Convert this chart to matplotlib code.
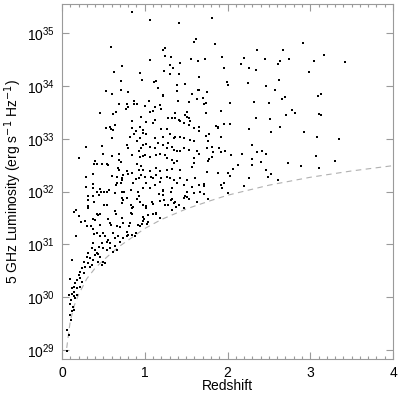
import numpy as np
import matplotlib
matplotlib.use("Agg")
import matplotlib.pyplot as plt
from matplotlib.ticker import FixedLocator, MultipleLocator, NullLocator

plt.rcParams['font.family'] = ['Liberation Sans', 'DejaVu Sans']

# (redshift, log10 luminosity), split by redshift range
src_lowz = [
    (0.85, 35.39), (0.59, 34.73), (0.73, 34.37), (0.63, 34.27), (0.94, 34.25), (0.97, 34.11),
    (0.71, 34.09), (0.53, 33.91), (0.61, 33.85), (0.71, 33.92), (0.80, 33.89),
    (0.69, 33.65), (0.78, 33.66), (0.87, 33.72), (0.91, 33.65), (0.80, 33.60), (0.77, 33.57),
    (0.87, 33.66), (0.46, 33.48), (0.62, 33.46), (0.65, 33.50), (0.85, 33.34), (0.96, 33.41),
    (0.94, 33.23), (0.58, 33.22), (0.64, 33.26), (0.62, 33.17), (0.59, 33.18), (0.84, 33.20),
    (0.89, 33.15), (0.87, 33.09), (0.82, 33.04), (0.61, 33.02), (0.98, 33.10), (0.94, 33.01),
    (0.53, 33.20),
    (0.29, 32.85), (0.21, 32.63), (0.48, 32.86), (0.49, 32.71), (0.61, 32.67), (0.69, 32.71),
    (0.78, 32.88), (0.80, 32.82), (0.91, 32.95), (0.84, 32.69), (0.93, 32.76), (0.94, 32.66),
    (0.98, 32.67), (0.40, 32.57), (0.42, 32.53), (0.39, 32.52), (0.48, 32.52), (0.54, 32.53),
    (0.55, 32.50), (0.69, 32.59), (0.71, 32.55), (0.68, 32.44), (0.69, 32.41), (0.78, 32.38),
    (0.80, 32.33), (0.84, 32.36), (0.91, 32.52), (0.96, 32.49), (0.93, 32.41), (0.96, 32.31),
    (0.93, 32.25), (0.29, 32.28), (0.37, 32.33), (0.60, 32.30), (0.66, 32.28), (0.72, 32.25),
    (0.74, 32.31),
    (0.37, 32.14), (0.38, 32.07), (0.42, 32.00), (0.46, 32.05), (0.51, 31.99), (0.54, 32.00),
    (0.57, 32.02), (0.64, 31.98), (0.72, 32.00), (0.75, 31.99), (0.83, 32.02), (0.92, 31.99),
    (0.98, 32.06), (0.66, 32.17), (0.65, 32.12), (0.86, 32.16), (0.90, 32.24), (0.71, 32.16),
    (0.73, 32.22), (0.29, 32.09),
    (0.17, 31.65), (0.15, 31.62), (0.20, 31.54), (0.17, 31.15), (0.31, 31.92), (0.32, 31.84),
    (0.31, 31.73), (0.32, 31.68), (0.37, 31.92), (0.39, 31.81), (0.45, 31.94), (0.47, 32.00),
    (0.51, 31.75), (0.54, 31.74), (0.42, 31.58), (0.44, 31.56), (0.46, 31.57), (0.37, 31.48),
    (0.40, 31.46), (0.28, 31.44), (0.23, 31.43), (0.30, 31.35), (0.35, 31.34), (0.37, 31.30),
    (0.46, 31.37), (0.58, 31.41), (0.59, 31.37), (0.56, 31.48), (0.64, 31.64), (0.65, 31.58),
    (0.72, 31.49), (0.74, 31.40), (0.72, 31.78), (0.74, 31.84), (0.72, 31.88), (0.78, 31.87),
    (0.83, 31.75), (0.84, 31.68), (0.86, 31.71), (0.83, 31.59), (0.85, 31.58), (0.81, 31.34),
    (0.78, 31.24), (0.82, 31.40), (0.66, 31.34), (0.70, 31.32), (0.92, 31.37), (0.94, 31.34),
    (0.91, 31.86), (0.94, 31.81), (0.93, 31.92), (0.98, 31.51),
    (0.50, 31.21), (0.52, 31.15), (0.46, 31.15), (0.42, 31.22), (0.39, 31.19), (0.62, 31.21),
    (0.64, 31.12), (0.68, 31.15), (0.56, 31.08), (0.54, 31.05), (0.58, 31.02), (0.74, 31.12),
    (0.78, 31.15), (0.80, 31.18), (0.70, 31.05), (0.54, 30.89), (0.50, 30.93), (0.58, 30.93),
    (0.45, 30.95), (0.48, 31.02), (0.38, 31.02), (0.36, 30.93), (0.40, 30.89), (0.42, 30.84),
    (0.44, 30.82), (0.32, 30.83), (0.30, 30.77), (0.34, 30.74), (0.38, 30.70), (0.40, 30.80),
    (0.46, 30.77), (0.44, 30.67), (0.36, 30.61), (0.32, 30.64), (0.34, 30.57), (0.26, 30.67),
    (0.28, 30.58), (0.24, 30.55), (0.22, 30.48), (0.27, 30.45), (0.20, 30.42), (0.22, 30.36),
    (0.18, 30.33), (0.24, 30.29), (0.16, 30.26), (0.14, 30.20), (0.12, 30.17), (0.18, 30.17),
    (0.22, 30.20), (0.10, 30.34), (0.12, 30.70), (0.50, 30.67), (0.52, 30.64), (0.48, 30.61),
    (0.62, 30.86), (0.66, 30.89), (0.64, 30.96), (0.84, 31.18), (0.88, 31.15), (0.90, 31.21),
    (0.12, 30.07), (0.15, 30.10), (0.14, 30.02), (0.18, 30.04), (0.16, 29.98), (0.10, 29.88),
    (0.13, 29.82), (0.15, 29.76), (0.12, 29.73), (0.10, 29.66), (0.11, 29.57), (0.06, 29.37),
    (0.08, 29.28), (0.06, 28.99), (0.09, 30.05), (0.11, 29.95),
]

src_midz = [
    (1.06, 35.25), (1.41, 35.19), (1.25, 34.71), (1.22, 34.68), (1.06, 34.49), (1.32, 34.54),
    (1.43, 34.44), (1.23, 34.28), (1.13, 34.09), (1.11, 34.08), (1.62, 34.89), (1.60, 34.84),
    (1.25, 34.57), (1.31, 34.39), (1.56, 34.51), (1.64, 34.47), (1.34, 34.33), (1.23, 34.29),
    (1.41, 34.23), (1.30, 34.22), (1.66, 34.16), (1.49, 34.04), (1.16, 33.96), (1.39, 34.01),
    (1.39, 33.91), (1.64, 33.92), (1.66, 33.93), (1.22, 33.83), (1.22, 33.80), (1.57, 33.85),
    (1.63, 33.76), (1.05, 33.72), (1.40, 33.72), (1.53, 33.70),
    (1.18, 33.64), (1.12, 33.60), (1.10, 33.53), (1.20, 33.57), (1.06, 33.51), (1.00, 33.62),
    (1.37, 33.48), (1.51, 33.50), (1.49, 33.45), (1.28, 33.39), (1.33, 33.39), (1.37, 33.39),
    (1.41, 33.36), (1.43, 33.34), (1.51, 33.42), (1.53, 33.39), (1.55, 33.34), (1.12, 33.35),
    (1.10, 33.29), (1.02, 33.31), (1.47, 33.29), (1.53, 33.26), (1.59, 33.20), (1.65, 33.23),
    (1.66, 33.15), (1.20, 33.19), (1.27, 33.18), (1.22, 33.04), (1.12, 33.01), (1.02, 33.09),
    (0.98, 33.17), (1.31, 33.08), (1.35, 33.01), (1.37, 33.04), (1.43, 33.04), (1.47, 33.01),
    (1.55, 32.98), (1.59, 32.95),
    (1.16, 32.91), (1.22, 32.88), (1.28, 32.91), (1.33, 32.85), (1.27, 32.82), (1.12, 32.82),
    (1.06, 32.85), (1.02, 32.90), (0.98, 32.88), (0.96, 32.82), (1.35, 32.79), (1.39, 32.76),
    (1.43, 32.77), (1.47, 32.82), (1.53, 32.79), (1.63, 32.76), (1.65, 32.72), (1.18, 32.72),
    (1.14, 32.69), (1.06, 32.66), (1.00, 32.69), (1.24, 32.69), (1.27, 32.63), (1.33, 32.60),
    (1.35, 32.54), (1.39, 32.57), (1.59, 32.63), (1.57, 32.47), (1.59, 32.54),
    (0.98, 32.41), (1.06, 32.38), (1.14, 32.44), (1.18, 32.38), (1.27, 32.41), (1.33, 32.43),
    (1.43, 32.41), (1.00, 32.28), (1.08, 32.28), (1.10, 32.25), (1.14, 32.31), (1.20, 32.25),
    (1.27, 32.28), (1.31, 32.25), (1.35, 32.22), (1.43, 32.25), (1.51, 32.22), (1.61, 32.25),
    (1.02, 32.16), (1.12, 32.12), (1.18, 32.19), (1.39, 32.16), (1.47, 32.12), (1.57, 32.09),
    (1.65, 32.12), (1.06, 32.06), (1.22, 32.03), (1.33, 32.06), (1.51, 32.00), (1.59, 31.97),
    (1.63, 31.80), (1.49, 31.92), (1.47, 31.88), (1.51, 31.90), (1.53, 31.85), (1.47, 31.68),
    (1.38, 31.71), (1.41, 31.75), (1.35, 31.78), (1.36, 31.81), (1.32, 31.84), (1.33, 31.86),
    (1.32, 32.00), (1.22, 32.01), (1.22, 31.93), (1.17, 31.95), (1.09, 31.80), (1.10, 31.77),
    (1.19, 31.82), (1.23, 31.84), (1.24, 31.75), (1.28, 31.74), (0.98, 31.75), (1.01, 31.73),
    (1.02, 31.68), (1.13, 31.60), (1.14, 31.58), (1.10, 31.58), (1.33, 31.66), (1.04, 31.56),
    (1.18, 31.49), (0.99, 31.48), (0.98, 31.44), (1.04, 31.42), (1.03, 31.39), (0.97, 31.39),
]

src_highz = [
    (1.81, 35.28), (1.85, 34.80), (1.73, 34.51), (1.93, 34.54), (1.96, 34.33), (1.99, 34.08),
    (2.01, 34.01), (1.70, 33.77), (1.75, 33.89), (1.71, 33.66), (1.74, 33.68), (1.74, 33.49),
    (1.92, 33.53), (1.86, 33.24), (1.89, 33.23), (1.88, 33.21), (1.96, 33.27), (1.74, 33.06),
    (1.78, 33.08), (1.92, 33.04), (1.76, 32.95), (1.81, 32.85), (1.75, 32.82), (1.90, 32.83),
    (1.92, 32.75), (1.83, 32.74), (1.81, 32.66), (1.78, 32.61), (1.76, 32.58), (1.75, 32.37),
    (1.88, 32.36), (2.01, 32.35), (1.71, 32.12), (1.72, 32.14), (1.72, 32.10), (1.92, 32.12),
    (1.93, 32.07), (1.96, 32.17), (2.01, 31.97), (1.67, 31.99), (1.71, 31.95), (1.77, 31.86),
    (2.03, 33.27), (1.97, 32.77),
    (2.91, 34.82), (2.36, 34.68), (2.67, 34.67), (3.17, 34.58), (2.20, 34.52), (2.45, 34.51),
    (2.74, 34.51), (2.16, 34.42), (2.64, 34.47), (2.61, 34.42), (3.04, 34.47), (3.42, 34.45),
    (2.26, 34.33), (2.34, 34.30), (2.98, 34.27), (2.25, 34.06), (2.62, 34.11), (2.47, 34.00),
    (2.57, 33.93), (3.09, 33.80), (3.13, 33.84), (2.69, 33.79), (2.66, 33.75), (2.03, 33.67),
    (2.32, 33.69), (2.50, 33.67), (2.78, 33.54), (2.81, 33.48), (2.71, 33.44), (3.10, 33.47),
    (3.13, 33.45), (2.34, 33.39), (2.51, 33.38), (2.26, 33.19), (2.64, 33.22), (2.52, 33.12),
    (2.92, 33.13), (3.08, 33.04), (3.35, 32.99), (2.30, 32.88), (2.04, 32.70), (2.18, 32.71),
    (2.36, 32.75), (2.42, 32.76), (2.46, 32.71), (2.30, 32.61), (3.07, 32.67), (2.40, 32.55),
    (2.73, 32.54), (3.30, 32.57), (2.13, 32.50), (2.30, 32.51), (2.89, 32.48), (2.07, 32.43),
    (3.11, 32.45), (2.47, 32.40), (2.53, 32.33), (2.49, 32.27), (2.26, 32.26), (2.03, 32.30),
    (2.61, 32.22), (2.20, 32.11),
]

# flux-limit curve
limit_z = [0.057, 0.1, 0.15, 0.2, 0.3, 0.4, 0.5, 0.6, 0.7, 0.8, 1.0, 1.2, 1.5, 1.8, 2.0,
           2.5, 3.0, 3.5, 4.0]
limit_logl = [29.04, 29.55, 29.85, 30.05, 30.35, 30.55, 30.70, 30.84, 30.97, 31.08, 31.30,
              31.47, 31.67, 31.83, 31.93, 32.12, 32.27, 32.39, 32.49]

ytick_decades = [29, 30, 31, 32, 33, 34, 35]

frame = '#9a9a9a'

fig = plt.figure(figsize=(4.0, 3.93), dpi=100)
ax = fig.add_axes([0.155, 0.0865, 0.8275, 0.9033])

for grp in (src_lowz, src_midz, src_highz):
    z, logl = np.array(grp).T
    ax.scatter(z, 10.0 ** logl, s=3.5, c='black', marker='s', linewidths=0, zorder=3)

ax.plot(limit_z, 10.0 ** np.array(limit_logl), color='#b0b0b0', lw=0.8,
        dashes=(5, 4), zorder=2)

ax.set_yscale('log')
ax.set_xlim(0, 4)
ax.set_ylim(10 ** 28.83, 10 ** 35.55)

ax.xaxis.set_major_locator(MultipleLocator(1))
ax.xaxis.set_minor_locator(MultipleLocator(0.1))
ax.yaxis.set_major_locator(FixedLocator([10.0 ** d for d in ytick_decades]))
ax.yaxis.set_minor_locator(NullLocator())

ax.tick_params(which='both', direction='in', top=True, right=True, color=frame,
               labelsize=10, width=0.8)
ax.tick_params(which='major', length=5, pad=5)
ax.tick_params(which='minor', length=2.5)
for sp in ax.spines.values():
    sp.set_color(frame)
    sp.set_linewidth(0.8)

ax.set_xlabel('Redshift', fontsize=10, labelpad=-1)
ax.set_ylabel('5 GHz Luminosity (erg s$^{-1}$ Hz$^{-1}$)', fontsize=10, labelpad=2)

fig.savefig('out.png', dpi=100)
